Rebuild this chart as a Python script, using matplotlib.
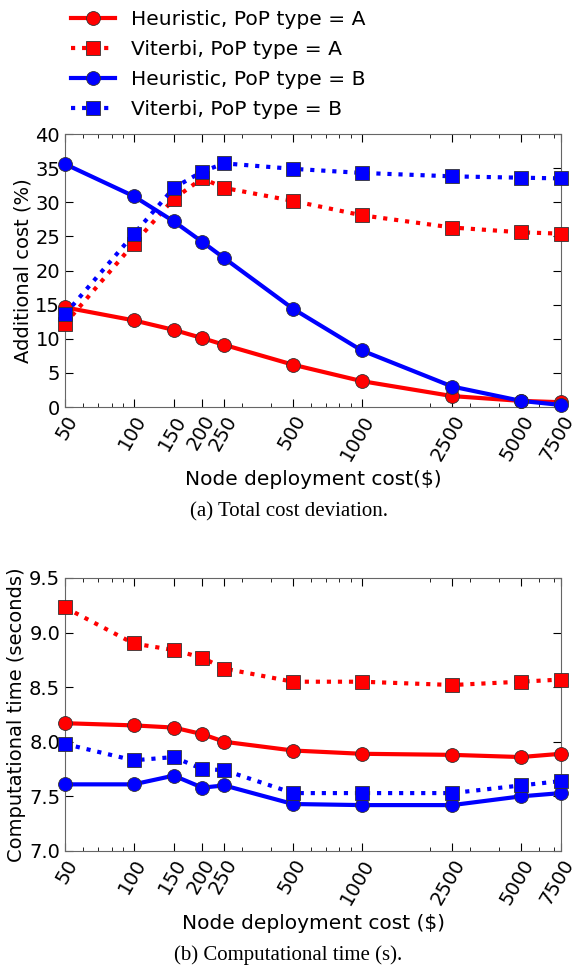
import numpy as np
import matplotlib
matplotlib.use("Agg")
import matplotlib.pyplot as plt
from matplotlib.ticker import FixedLocator, FixedFormatter, NullFormatter, LogLocator

# node deployment cost ($)
node_cost = [50, 100, 150, 200, 250, 500, 1000, 2500, 5000, 7500]
tick_labels = ["50", "100", "150", "200", "250", "500", "1000", "2500", "5000", "7500"]

# additional cost (%)
heur_a_cost = [14.6, 12.7, 11.3, 10.1, 9.1, 6.2, 3.8, 1.6, 0.9, 0.7]
vit_a_cost = [12.2, 23.9, 30.5, 33.5, 32.1, 30.2, 28.1, 26.3, 25.6, 25.4]
heur_b_cost = [35.6, 30.9, 27.2, 24.2, 21.8, 14.4, 8.3, 3.0, 0.9, 0.3]
vit_b_cost = [13.6, 25.3, 32.1, 34.5, 35.7, 34.9, 34.3, 33.8, 33.6, 33.5]

# computational time (s)
heur_a_time = [8.17, 8.15, 8.13, 8.07, 8.00, 7.92, 7.89, 7.88, 7.86, 7.89]
vit_a_time = [9.23, 8.90, 8.84, 8.77, 8.67, 8.55, 8.55, 8.52, 8.55, 8.57]
heur_b_time = [7.61, 7.61, 7.69, 7.58, 7.60, 7.43, 7.42, 7.42, 7.50, 7.53]
vit_b_time = [7.98, 7.83, 7.86, 7.75, 7.74, 7.53, 7.53, 7.53, 7.60, 7.64]

series_names = ["Heuristic, PoP type = A", "Viterbi, PoP type = A",
                "Heuristic, PoP type = B", "Viterbi, PoP type = B"]

plt.rcParams["font.family"] = ["DejaVu Sans"]
plt.rcParams["font.size"] = 14

styles = [
    dict(color="#ff0000", linestyle="-", marker="o"),
    dict(color="#ff0000", linestyle=":", marker="s"),
    dict(color="#0000ff", linestyle="-", marker="o"),
    dict(color="#0000ff", linestyle=":", marker="s"),
]


def draw_panel(ax, series, ylim, yticks, yfmt, ylabel, xlabel):
    handles = []
    for ys, name, st in zip(series, series_names, styles):
        h, = ax.plot(node_cost, ys, lw=3, ms=10, mec="#333333", mew=0.6,
                     label=name, clip_on=False, zorder=3, **st)
        handles.append(h)
    ax.set_xscale("log")
    ax.set_xlim(50, 7500)
    ax.set_ylim(*ylim)
    ax.xaxis.set_major_locator(FixedLocator(node_cost))
    ax.xaxis.set_major_formatter(FixedFormatter(tick_labels))
    ax.xaxis.set_minor_locator(LogLocator(subs=np.arange(2, 10)))
    ax.xaxis.set_minor_formatter(NullFormatter())
    ax.set_yticks(yticks)
    ax.set_yticklabels([yfmt.format(v) for v in yticks])
    ax.tick_params(which="both", direction="in", top=True, right=True)
    ax.tick_params(which="major", length=6, labelsize=14)
    ax.tick_params(which="minor", length=3)
    plt.setp(ax.get_xticklabels(), rotation=60, ha="right", rotation_mode="anchor")
    for sp in ax.spines.values():
        sp.set_color("#666666")
    ax.set_ylabel(ylabel, fontsize=14, labelpad=2)
    ax.set_xlabel(xlabel, fontsize=14.5, labelpad=4)
    return handles


fig = plt.figure(figsize=(5.77, 9.67), dpi=100)
ax1 = fig.add_axes([0.1127, 0.5791, 0.8596, 0.2823])
ax2 = fig.add_axes([0.1127, 0.1200, 0.8596, 0.2823])

handles = draw_panel(ax1, [heur_a_cost, vit_a_cost, heur_b_cost, vit_b_cost],
                     (0, 40), list(range(0, 41, 5)), "{:d}",
                     "Additional cost (%)", "Node deployment cost($)")
draw_panel(ax2, [heur_a_time, vit_a_time, heur_b_time, vit_b_time],
           (7.0, 9.5), [7.0, 7.5, 8.0, 8.5, 9.0, 9.5], "{:.1f}",
           "Computational time (seconds)", "Node deployment cost ($)")

fig.legend(handles=handles, loc="upper left", bbox_to_anchor=(0.109, 0.998),
           frameon=False, fontsize=14.6, handlelength=2.17, handletextpad=0.79,
           labelspacing=0.54, borderaxespad=0)

fig.text(0.5, 1 - 512 / 967, "(a) Total cost deviation.", ha="center", va="center",
         family="Liberation Serif", fontsize=15)
fig.text(0.5, 1 - 955 / 967, "(b) Computational time (s).", ha="center", va="center",
         family="Liberation Serif", fontsize=15)

fig.savefig("out.png", dpi=100)
